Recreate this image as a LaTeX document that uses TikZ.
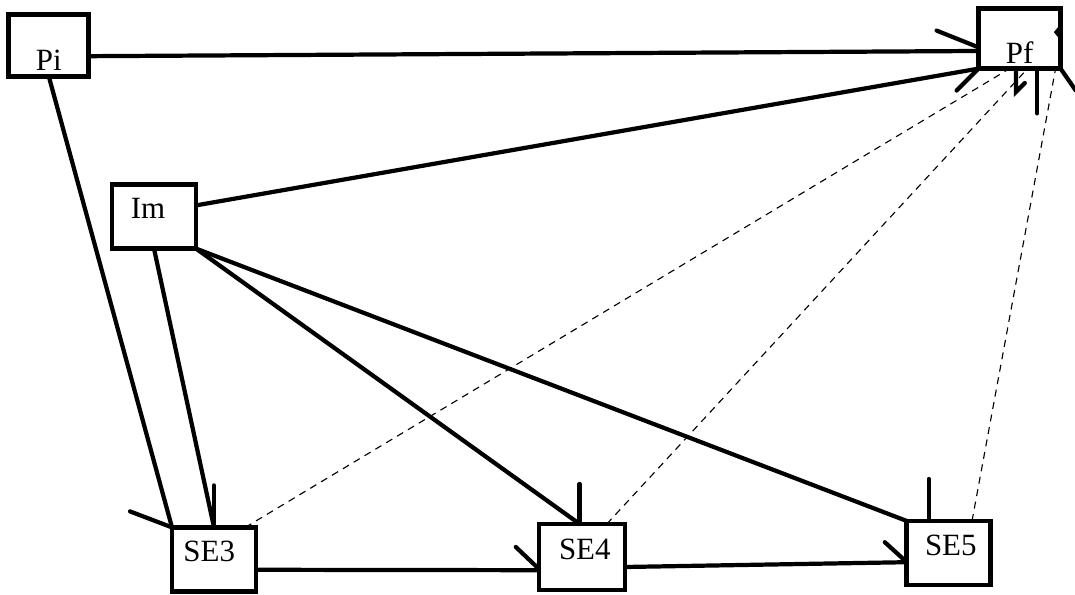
\documentclass[tikz,border=0pt]{standalone}
\usepackage{fontspec}
\setmainfont{Liberation Serif}
\begin{document}
\begin{tikzpicture}[
    box/.style={draw, line width=3.4pt, inner sep=0pt, outer sep=0pt, minimum width=2.1cm, minimum height=1.6cm},
    lbl/.style={font=\fontsize{22}{25}\selectfont},
    conn/.style={line width=3pt},
    trace/.style={dashed, line width=0.8pt, dash pattern=on 5pt off 4pt},
    barb/.style={line width=3pt, line cap=round}
]
\useasboundingbox (0,0) rectangle (26.875,14.875);

% Cajas
\node[box, minimum width=2.0cm, minimum height=1.55cm, label={[lbl, yshift=-0.38cm]center:Pi}] (pi) at (1.22,13.74) {};
\node[box, minimum width=2.05cm, minimum height=1.5cm, label={[lbl, yshift=-0.34cm]center:Pf}] (pf) at (25.49,13.91) {};
\node[box, label={[lbl, xshift=-0.15cm, yshift=0.2cm]center:Im}] (im) at (3.85,9.46) {};
\node[box, label={[lbl, xshift=-0.12cm, yshift=0.2cm]center:SE3}] (se3) at (5.35,0.89) {};
\node[box, minimum width=2.15cm, minimum height=1.65cm, label={[lbl, xshift=0.07cm, yshift=0.2cm]center:SE4}] (se4) at (14.55,0.95) {};
\node[box, label={[lbl, xshift=0.05cm, yshift=0.18cm]center:SE5}] (se5) at (23.72,1.05) {};

% Enlaces
\draw[conn] ([yshift=-0.27cm]pi.east) -- ([yshift=-0.31cm]pf.west);
\draw[conn] (pi.south) -- (se3.north west);
\draw[conn] ([yshift=0.28cm]im.east) -- (pf.south west);
\draw[conn] (im.south) -- (se3.north);
\draw[conn] (im.south east) -- ([xshift=-0.06cm]se4.north);
\draw[conn] (im.south east) -- (se5.north west);
\draw[conn] ([yshift=-0.26cm]se3.east) -- ([yshift=-0.33cm]se4.west);
\draw[conn] ([yshift=-0.25cm]se4.east) -- ([yshift=-0.23cm]se5.west);

% Trazas
\draw[trace] ([xshift=0.78cm]se3.north) -- ([xshift=-0.25cm]pf.south);
\draw[trace] ([xshift=0.62cm]se4.north) -- ([xshift=0.2cm]pf.south);
\draw[trace] ([xshift=0.58cm]se5.north) -- ([xshift=0.9cm]pf.south);

% Puntas
\draw[barb] ([yshift=-0.22cm]pf.west) -- ++(-1.05,0.42);
\draw[barb] (pf.south west) -- ++(-0.55,-0.55);
\draw[barb] ([xshift=-0.09cm]pf.south) -- ++(0,-0.58) -- ++(0.22,0.22);
\draw[barb] ([xshift=0.44cm]pf.south) -- ++(0,-1.12);
\draw[barb] (pf.south east) -- ++(0.38,-0.55);
\draw[barb] ([yshift=0.28cm]pf.east) -- ++(-0.1,-0.12) -- ++(0.1,-0.12);
\draw[barb] (se3.north west) -- ++(-1.05,0.4);
\draw[barb] (se3.north) -- ++(0,1.05);
\draw[barb] ([xshift=-0.06cm]se4.north) -- ++(0,1.0);
\draw[barb] ([yshift=-0.3cm]se4.west) -- ++(-0.58,0.55);
\draw[barb] ([xshift=-0.5cm]se5.north) -- ++(0,1.05);
\draw[barb] ([yshift=-0.23cm]se5.west) -- ++(-0.55,0.5);

\end{tikzpicture}
\end{document}
